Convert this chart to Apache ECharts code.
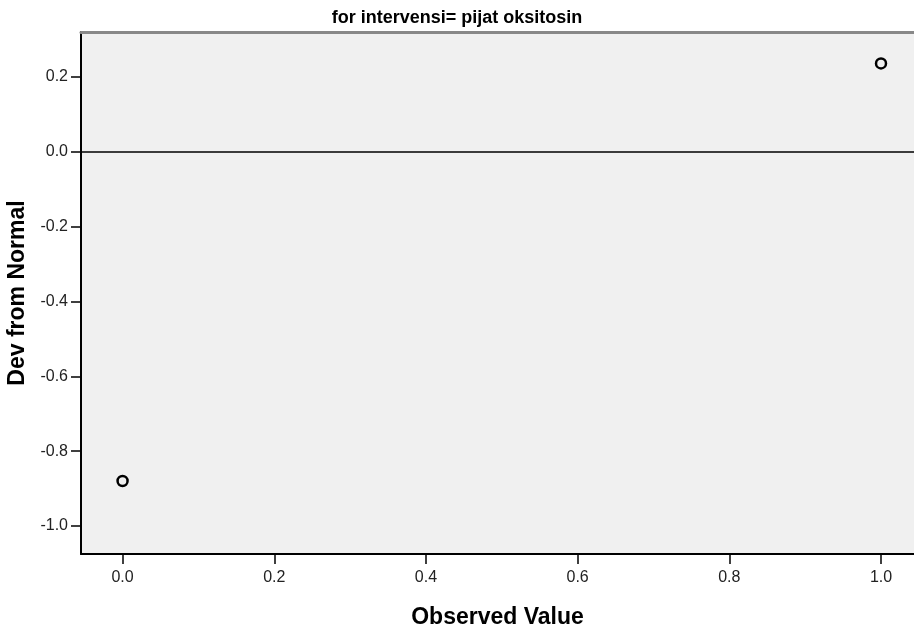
<!DOCTYPE html>
<html>
<head>
<meta charset="utf-8">
<script src="https://cdn.jsdelivr.net/npm/echarts@6/dist/echarts.min.js"></script>
<style>
html,body{margin:0;padding:0;background:#fff;}
#chart{width:914px;height:632px;}
</style>
</head>
<body>
<div id="chart"></div>
<script>
var observedValues = [0.0, 1.0];
var devFromNormal = [-0.88, 0.236];
var xTicks = [0.0, 0.2, 0.4, 0.6, 0.8, 1.0];
var yTicks = [-1.0, -0.8, -0.6, -0.4, -0.2, 0.0, 0.2];
var titleText = 'for intervensi= pijat oksitosin';
var xName = 'Observed Value';
var yName = 'Dev from Normal';

var points = observedValues.map(function (x, i) { return [x, devFromNormal[i]]; });
var font = 'Liberation Sans, Arial, sans-serif';

var chart = echarts.init(document.getElementById('chart'));
chart.setOption({
  animation: false,
  backgroundColor: '#ffffff',
  title: {
    text: titleText,
    left: 'center',
    top: 4,
    textStyle: { fontFamily: font, fontSize: 18, fontWeight: 'bold', color: '#000' }
  },
  grid: {
    left: 81, top: 32, right: 0, bottom: 78,
    show: true, backgroundColor: '#f0f0f0', borderWidth: 0,
    outerBoundsMode: 'none'
  },
  xAxis: [{
    type: 'value',
    min: -0.0548, max: 1.0435,
    name: xName,
    nameLocation: 'middle',
    nameGap: 52,
    nameTextStyle: { fontFamily: font, fontSize: 23, fontWeight: 'bold', color: '#000' },
    axisLine: { show: true, onZero: false, lineStyle: { color: '#000', width: 2 } },
    axisTick: { show: true, customValues: xTicks, length: 10, lineStyle: { color: '#000', width: 1.5 } },
    axisLabel: {
      customValues: xTicks,
      formatter: function (v) { return v.toFixed(1); },
      fontFamily: font, fontSize: 16, color: '#222', margin: 16
    },
    splitLine: { show: false }
  }, {
    type: 'value',
    position: 'top',
    min: -0.0548, max: 1.0435,
    axisLine: { show: true, onZero: false, lineStyle: { color: '#888', width: 3 } },
    axisTick: { show: false },
    axisLabel: { show: false },
    splitLine: { show: false }
  }],
  yAxis: {
    type: 'value',
    min: -1.075, max: 0.32,
    name: yName,
    nameLocation: 'middle',
    nameGap: 45,
    nameTextStyle: { fontFamily: font, fontSize: 23, fontWeight: 'bold', color: '#000' },
    axisLine: { show: true, onZero: false, lineStyle: { color: '#000', width: 2 } },
    axisTick: { show: true, customValues: yTicks, length: 10, lineStyle: { color: '#000', width: 1.5 } },
    axisLabel: {
      customValues: yTicks,
      formatter: function (v) { return v.toFixed(1); },
      fontFamily: font, fontSize: 16, color: '#222', margin: 13
    },
    splitLine: { show: false }
  },
  series: [{
    type: 'scatter',
    data: points,
    symbol: 'circle',
    symbolSize: 10,
    itemStyle: { color: '#f0f0f0', borderColor: '#000', borderWidth: 2.5, opacity: 1 },
    markLine: {
      silent: true,
      symbol: 'none',
      label: { show: false },
      lineStyle: { color: '#000', width: 1.5, type: 'solid' },
      data: [{ yAxis: 0 }]
    }
  }]
});
</script>
</body>
</html>
